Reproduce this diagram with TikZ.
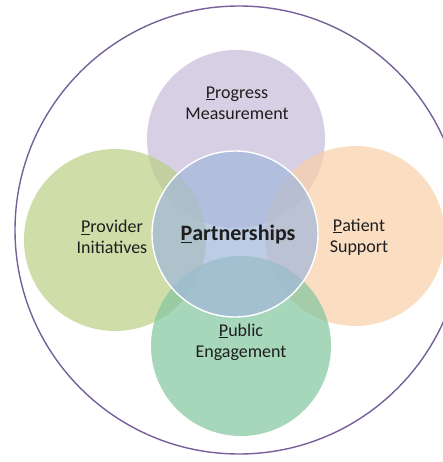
\documentclass[tikz,border=0pt]{standalone}
\usepackage{fontspec}
\setmainfont{Carlito}

\definecolor{ringpurple}{RGB}{118,96,154}
\definecolor{progcol}{RGB}{199,188,216}
\definecolor{provcol}{RGB}{188,208,136}
\definecolor{patcol}{RGB}{249,208,171}
\definecolor{pubcol}{RGB}{132,199,159}
\definecolor{partcol}{RGB}{162,184,219}
\definecolor{txtcol}{RGB}{30,30,30}

\begin{document}
\begin{tikzpicture}[%
    x=1pt, y=-1pt,              % work in pixel units, y going down
    ]
% -------------------------------------------------
% Styles for the circles and their texts
\tikzset{
  bubble/.style={circle, inner sep=0pt, fill opacity=0.72, draw=none},
  hub/.style={bubble, draw=white, line width=1.4pt, draw opacity=1},
  lbl/.style={align=center, text=txtcol, font=\fontsize{18}{21}\selectfont},
  hublbl/.style={text=txtcol, font=\fontsize{22}{26}\selectfont\bfseries}
}
\useasboundingbox (0,0) rectangle (442,462);
% -------------------------------------------------
% Outer ring
\node [circle, draw=ringpurple, line width=1.4pt, minimum size=448pt]
  (ring) at (239,230) {};
% The four outer bubbles, then the hub on top
\node [bubble, fill=progcol, minimum size=178pt] (prog) at (236,139) {};
\node [bubble, fill=provcol, minimum size=182pt] (prov) at (115,240) {};
\node [bubble, fill=patcol,  minimum size=180pt] (pat)  at (355,236) {};
\node [bubble, fill=pubcol,  minimum size=180pt] (pub)  at (241,346) {};
\node [hub, fill=partcol, minimum size=166pt]    (part) at (235,234) {};

% -------------------------------------------------
% Texts
\node [lbl] (progtxt) at (237,103) {\underline{P}rogress\\Measurement};
\node [lbl] (provtxt) at (112,237) {\underline{P}rovider\\Initiatives};
\node [lbl] (pattxt)  at (359,237) {\underline{P}atient\\Support};
\node [lbl] (pubtxt)  at (241,342) {\underline{P}ublic\\Engagement};
\node [hublbl] (parttxt) at (238,235) {\underline{P}artnerships};
% -------------------------------------------------
\end{tikzpicture}
\end{document}
